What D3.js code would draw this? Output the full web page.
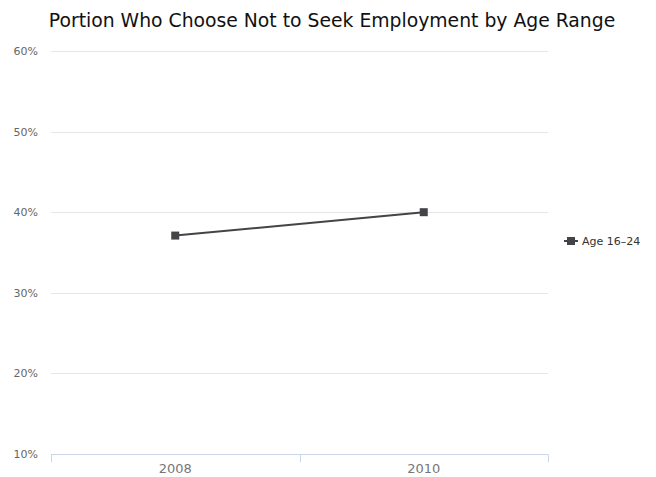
<!DOCTYPE html>
<html>
<head>
<meta charset="utf-8">
<script src="https://cdn.jsdelivr.net/npm/d3@7"></script>
<style>
  body { margin: 0; background: #fff; }
  svg { display: block; font-family: "DejaVu Sans", sans-serif; }
</style>
</head>
<body>
<div id="chart"></div>
<script>
const title = "Portion Who Choose Not to Seek Employment by Age Range";
const years = ["2008", "2010"];
const seriesName = "Age 16–24";
const seriesValues = [37.1, 40.0];
const yTicks = [10, 20, 30, 40, 50, 60];

const W = 656, H = 477;
const margin = { left: 51, right: 108, top: 51, bottom: 23 };

const svg = d3.select("#chart").append("svg").attr("width", W).attr("height", H);

const x = d3.scaleBand().domain(years).range([margin.left, W - margin.right]);
const y = d3.scaleLinear().domain([10, 60]).range([H - margin.bottom, margin.top]);

svg.append("text")
  .attr("x", 332).attr("y", 27)
  .attr("text-anchor", "middle")
  .attr("font-size", 18.8)
  .attr("fill", "#111")
  .text(title);

// horizontal gridlines
svg.append("g").selectAll("line").data(yTicks.slice(1)).join("line")
  .attr("x1", margin.left).attr("x2", W - margin.right)
  .attr("y1", d => Math.round(y(d)) + 0.5).attr("y2", d => Math.round(y(d)) + 0.5)
  .attr("stroke", "#e6e6e6").attr("stroke-width", 1);

// y labels
svg.append("g").selectAll("text").data(yTicks).join("text")
  .attr("x", 38).attr("y", d => y(d) + 4)
  .attr("text-anchor", "end")
  .attr("font-size", 11)
  .attr("fill", "#666")
  .text(d => d + "%");

// x axis
const xAxis = svg.append("g")
  .attr("transform", `translate(0,${Math.round(y(10)) + 0.5})`);
xAxis.append("line")
  .attr("x1", margin.left).attr("x2", W - margin.right)
  .attr("stroke", "#ccd6eb");
const edges = years.map(d => x(d)).concat([x(years[years.length - 1]) + x.bandwidth()]);
xAxis.selectAll("line.tick").data(edges).join("line")
  .attr("class", "tick")
  .attr("x1", d => Math.round(d) + 0.5).attr("x2", d => Math.round(d) + 0.5)
  .attr("y1", 0).attr("y2", 8)
  .attr("stroke", "#ccd6eb");
xAxis.selectAll("text").data(years).join("text")
  .attr("x", d => x(d) + x.bandwidth() / 2)
  .attr("y", 18)
  .attr("text-anchor", "middle")
  .attr("font-size", 13)
  .attr("fill", "#777")
  .text(d => d);

// series line
const pts = years.map((d, i) => [x(d) + x.bandwidth() / 2, y(seriesValues[i])]);
svg.append("path")
  .attr("d", d3.line()(pts))
  .attr("fill", "none")
  .attr("stroke", "#434348")
  .attr("stroke-width", 2);
svg.append("g").selectAll("rect").data(pts).join("rect")
  .attr("x", d => d[0] - 4).attr("y", d => d[1] - 4)
  .attr("width", 8).attr("height", 8)
  .attr("fill", "#434348");

// legend
const lg = svg.append("g").attr("transform", "translate(564,241)");
lg.append("line").attr("x1", 0).attr("x2", 14).attr("stroke", "#434348").attr("stroke-width", 2);
lg.append("rect").attr("x", 3).attr("y", -4).attr("width", 8).attr("height", 8).attr("fill", "#434348");
lg.append("text").attr("x", 18).attr("y", 4)
  .attr("font-size", 11).attr("fill", "#333")
  .text(seriesName);
</script>
</body>
</html>
